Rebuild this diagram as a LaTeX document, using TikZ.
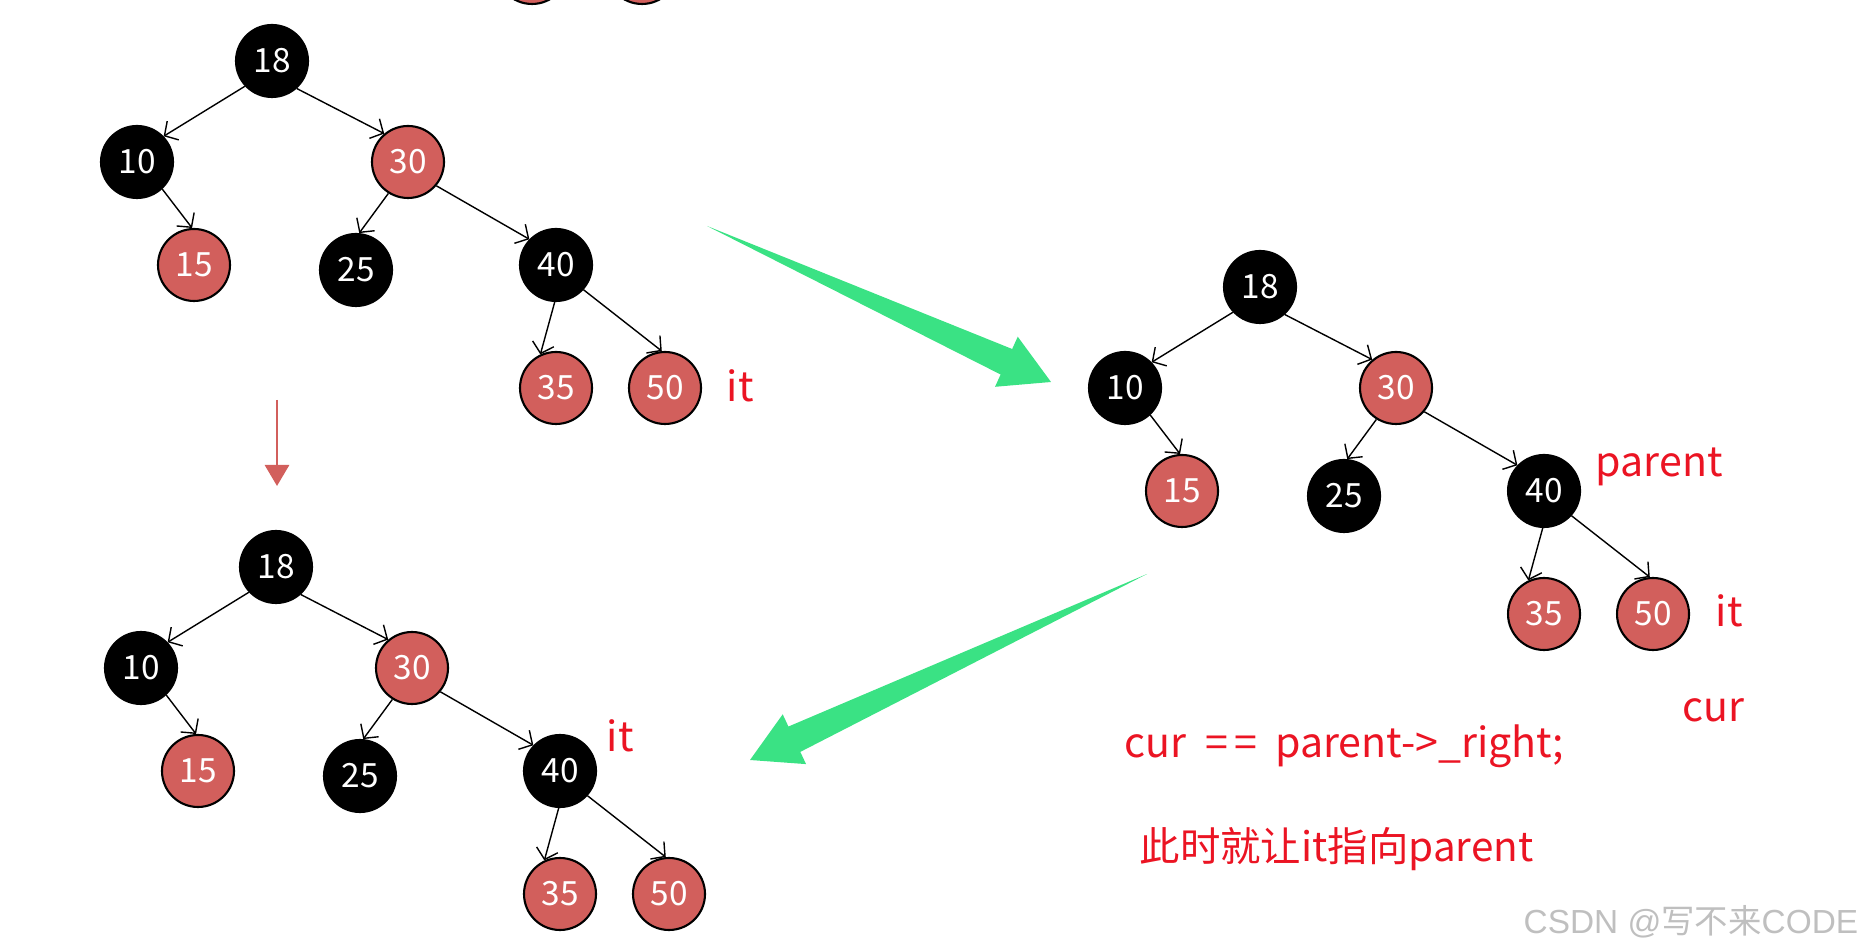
\documentclass[tikz,border=0pt]{standalone}
\usepackage{fontspec}
\setmainfont{Noto Sans CJK SC}
\newfontfamily\wmfont{Liberation Sans}
\usepackage{tikz}
\usetikzlibrary{arrows.meta,positioning,calc}

\definecolor{rbred}{RGB}{210,95,92}
\definecolor{lblred}{RGB}{235,20,35}
\definecolor{fatgreen}{RGB}{58,226,132}

% one red-black tree, #1 = name prefix, (#2,#3) = root
\newcommand{\rbtree}[3]{%
    \begin{scope}[shift={(#2,#3)}]
        \node (#118) [blknode] at (0, 0) {18};
        \node (#110) [blknode] at (-1.35, -1.01) {10};
        \node (#130) [rednode] at (1.36, -1.01) {30};
        \node (#115) [rednode] at (-0.78, -2.04) {15};
        \node (#125) [blknode] at (0.84, -2.09) {25};
        \node (#140) [blknode] at (2.84, -2.04) {40};
        \node (#135) [rednode] at (2.84, -3.27) {35};
        \node (#150) [rednode] at (3.93, -3.27) {50};
    \end{scope}
    \draw[edge] (#118.223) -- (#110.44);
    \draw[edge] (#118.312) -- (#130.130);
    \draw[edge] (#110.313) -- (#115.93);
    \draw[edge] (#130.238) -- (#125.85);
    \draw[edge] (#130.320) -- (#140.136);
    \draw[edge] (#140.268) -- (#135.115);
    \draw[edge] (#140.318) -- (#150.95);
}

% big green arrow from #1 (tail) to #2 (tip)
\newcommand{\fatarrow}[2]{%
    \coordinate (hb) at ($(#2)!4.9mm!(#1)$);
    \fill[fatgreen] (#1) -- ($(hb)!1.4mm!90:(#2)$) -- ($(hb)!2.75mm!90:(#2)$) -- (#2)
        -- ($(hb)!2.75mm!-90:(#2)$) -- ($(hb)!1.4mm!-90:(#2)$) -- cycle;
}

\begin{document}
\begin{tikzpicture}[
        blknode/.style={circle, draw=black, fill=black, text=white, minimum size=7.2mm, inner sep=0pt, line width=0.6pt, font=\fontsize{9.5}{11}\selectfont},
        rednode/.style={blknode, fill=rbred},
        edge/.style={-{Straight Barb[length=1mm, width=2.2mm]}, line width=0.4pt},
        lbl/.style={text=lblred, inner sep=0pt, anchor=base west, font=\fontsize{11.7}{14}\selectfont}
    ]
        \useasboundingbox (0, 0) rectangle (18.63, -9.51);

        % cut-off nodes at the top edge
        \node (P35) [rednode] at (5.32, 0.32) {};
        \node (P50) [rednode] at (6.42, 0.32) {};

        \rbtree{A}{2.72}{-0.61}
        \rbtree{B}{12.60}{-2.87}
        \rbtree{C}{2.76}{-5.67}

        \node (itA) [lbl] at (7.26, -4.02) {it};
        \node (parentB) [lbl] at (15.95, -4.77) {parent};
        \node (itB) [lbl] at (17.15, -6.27) {it};
        \node (curB) [lbl] at (16.82, -7.22) {cur};
        \node (itC) [lbl] at (6.06, -7.52) {it};
        \node (cond) [lbl] at (11.24, -7.57) {cur\hspace{0.45em}=\hspace{0.15em}=\hspace{0.45em}parent->\_right;};
        \node (note) [lbl, font=\fontsize{11.5}{14}\selectfont] at (11.39, -8.62) {此时就让it指向parent};
        \node (wm) [anchor=base west, inner sep=0pt, text=black!25, font=\fontsize{9.5}{11}\selectfont] at (15.23, -9.33) {{\wmfont CSDN @}写不来{\wmfont CODE}};

        \coordinate (dnA) at (2.77, -4.00);
        \coordinate (dnB) at (2.77, -4.86);
        \draw[-{Triangle[length=2.1mm, width=2.4mm]}, rbred, line width=0.85pt] (dnA) -- (dnB);

        \coordinate (gA) at (7.07, -2.26);
        \coordinate (gB) at (10.51, -3.82);
        \coordinate (gC) at (11.47, -5.74);
        \coordinate (gD) at (7.50, -7.60);
        \fatarrow{gA}{gB}
        \fatarrow{gC}{gD}
    \end{tikzpicture}
\end{document}
